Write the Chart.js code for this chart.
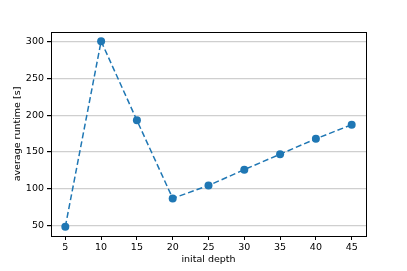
<!DOCTYPE html>
<html>
<head>
<meta charset="utf-8">
<script src="https://cdn.jsdelivr.net/npm/chart.js@4"></script>
<style>
  html, body { margin: 0; padding: 0; background: #fff; }
  #wrap { width: 407px; height: 271px; }
</style>
</head>
<body>
<div id="wrap"><canvas id="runtimechart" width="407" height="271"></canvas></div>
<script>
const depths = [5, 10, 15, 20, 25, 30, 35, 40, 45];
const runtimes = [48.5, 300.5, 193, 87, 104.5, 126, 147, 168, 187];
const xTicks = [5, 10, 15, 20, 25, 30, 35, 40, 45];
const yTicks = [50, 100, 150, 200, 250, 300];

const frame = {
    id: 'frame',
    afterDraw(chart) {
        const a = chart.chartArea, c = chart.ctx;
        c.save();
        c.strokeStyle = '#000';
        c.lineWidth = 1;
        c.strokeRect(Math.round(a.left) + 0.5, Math.round(a.top) + 0.5,
            Math.round(a.right - a.left), Math.round(a.bottom - a.top));
        c.restore();
    }
};

const font = { family: 'DejaVu Sans', size: 9.5 };

new Chart(document.getElementById('runtimechart').getContext('2d'), {
    type: 'line',
    data: {
        datasets: [{
            data: depths.map((d, i) => ({ x: d, y: runtimes[i] })),
            borderColor: '#1f77b4',
            backgroundColor: '#1f77b4',
            borderWidth: 1.5,
            borderDash: [6, 3],
            pointRadius: 4,
            pointBorderWidth: 0,
            pointStyle: 'circle',
            tension: 0,
        }]
    },
    options: {
        responsive: false,
        animation: false,
        layout: { padding: { top: 32, right: 41, left: 12, bottom: 0 } },
        plugins: { legend: { display: false }, tooltip: { enabled: false } },
        scales: {
            x: {
                type: 'linear',
                min: 3,
                max: 47,
                afterBuildTicks: s => { s.ticks = xTicks.map(v => ({ value: v })); },
                afterFit: s => { s.height = 271 - 236; },
                grid: { drawOnChartArea: false, tickLength: 4, tickColor: '#000' },
                border: { color: '#000' },
                ticks: { color: '#000', font: font, padding: 2, maxRotation: 0 },
                title: { display: true, text: 'inital depth', color: '#000', font: font, padding: { top: 0, bottom: 6 } },
            },
            y: {
                min: 35.9,
                max: 313,
                afterBuildTicks: s => { s.ticks = yTicks.map(v => ({ value: v })); },
                afterFit: s => { s.width = 39; },
                grid: { color: '#cfcfcf', lineWidth: 1.2, tickLength: 4, tickColor: '#000' },
                border: { color: '#000' },
                ticks: { color: '#000', font: font, padding: 3 },
                title: { display: true, text: 'average runtime [s]', color: '#000', font: font, padding: { top: 0, bottom: 2 } },
            },
        },
    },
    plugins: [frame],
});
</script>
</body>
</html>
